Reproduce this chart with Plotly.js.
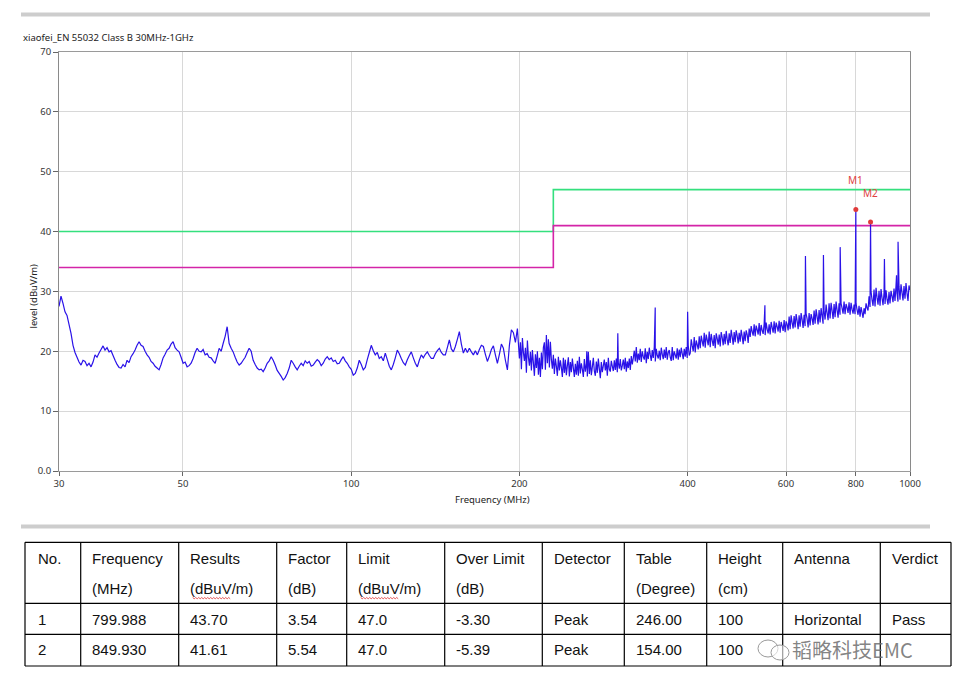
<!DOCTYPE html>
<html><head><meta charset="utf-8">
<script src="https://cdn.plot.ly/plotly-3.0.1.min.js"></script>
<style>html,body{margin:0;padding:0;background:#fff;} #chart{width:965px;height:692px;}</style>
</head><body><div id="chart"></div>
<script>
// ---------- DATA ----------
// Level (dBuV/m) 30 MHz - 200 MHz
const lowLevels = [
27.5,29.2,28.0,26.6,26.0,24.5,23.0,21.0,19.8,19.0,
18.2,17.7,18.5,18.3,17.6,18.0,17.4,18.2,19.4,19.0,
19.7,20.3,20.9,20.2,20.6,19.9,20.1,19.3,18.5,17.8,
17.3,17.2,17.8,17.4,18.5,18.1,19.1,19.6,20.2,21.0,
21.6,21.0,20.8,20.0,19.4,19.0,18.3,18.0,17.5,17.2,
16.9,17.8,18.9,19.5,20.2,20.5,21.2,21.6,20.6,20.2,
19.9,19.0,18.0,18.2,17.4,17.6,18.0,18.8,19.8,20.5,
20.0,19.9,20.3,19.4,19.6,19.0,18.9,18.4,18.0,19.2,
20.5,20.0,21.3,22.5,24.1,21.3,20.5,19.9,19.0,18.2,
17.7,18.0,18.5,19.0,19.8,20.5,20.0,18.5,17.8,17.2,
16.9,17.0,16.6,17.2,18.0,18.4,19.1,18.5,17.7,16.8,
16.3,15.8,15.2,15.6,16.3,17.2,18.5,18.0,17.4,16.9,
17.5,18.0,17.6,18.4,18.0,18.3,17.5,17.7,18.2,18.6,
18.3,17.6,18.0,18.7,19.1,18.6,18.9,18.3,18.5,17.9,
18.0,18.6,19.1,18.4,18.0,17.4,17.0,16.0,16.3,17.2,
18.5,17.8,16.9,17.3,18.6,19.8,21.0,20.1,19.4,19.8,
18.8,19.1,18.4,19.7,18.6,17.5,16.9,17.8,18.9,20.2,
19.6,18.8,18.1,17.7,18.6,19.3,19.9,18.9,18.0,17.4,
18.5,19.4,18.9,19.5,19.9,19.3,18.8,18.8,19.6,20.1,
20.5,19.8,19.4,19.4,20.6,21.9,20.4,19.9,20.8,22.0,
23.3,21.2,19.7,20.5,19.8,20.5,19.9,19.4,20.1,19.4,
20.3,21.0,20.8,19.5,18.3,19.2,20.3,20.9,19.4,18.0,
19.5,21.2,20.5,18.5,16.9,21.0,23.6,23.1,21.5,23.8,
18.8];
// Level (dBuV/m) 200 MHz - 1000 MHz (dense band)
const highLevels = [
21.5,17.0,22.2,19.8,18.4,20.6,16.4,21.8,19.0,17.6,
19.9,16.8,20.2,18.1,15.9,19.5,17.2,20.0,16.1,18.9,
15.7,19.8,17.0,20.6,21.5,16.9,22.7,18.0,22.0,17.3,
21.6,18.6,17.1,19.4,16.2,18.8,17.5,15.9,19.1,16.8,
18.5,17.3,15.7,18.9,16.4,18.6,16.0,17.6,19.0,15.8,
18.2,16.5,18.8,17.2,15.7,17.9,16.1,18.4,15.9,19.1,
16.3,18.0,17.0,15.7,18.7,16.6,17.8,15.8,19.9,16.2,
18.5,16.0,17.4,18.9,16.7,15.9,18.3,16.4,18.8,17.1,
15.5,18.2,16.5,17.6,18.6,16.8,18.2,15.9,18.9,17.0,
16.6,18.4,17.5,16.7,18.5,16.9,18.8,16.5,18.1,17.1,
18.7,16.8,17.6,18.6,17.0,18.9,16.6,18.3,17.2,18.8,
16.9,19.2,17.8,18.9,20.1,18.3,20.7,18.1,19.6,18.5,
20.4,18.2,20.0,19.1,18.6,20.5,18.0,19.9,18.7,20.6,
19.4,18.4,20.2,18.9,20.7,18.3,20.4,19.3,18.8,20.1,
18.5,20.6,19.5,18.7,20.3,18.9,20.7,18.6,19.8,20.2,
19.0,18.4,20.7,18.5,20.0,19.4,18.8,20.5,18.6,20.3,
19.0,20.6,19.6,18.7,20.4,19.1,20.7,18.9,21.0,19.3,
19.7,22.0,20.9,20.0,22.4,19.8,21.8,21.1,20.3,22.5,
20.5,22.6,21.7,20.8,23.1,20.6,22.8,21.9,21.0,23.3,
20.7,22.9,21.8,20.9,22.7,20.5,23.0,22.1,21.1,22.8,
20.8,23.2,22.3,21.0,22.9,21.2,23.4,22.0,21.0,23.0,
21.4,23.6,22.4,21.1,23.2,21.5,23.5,22.6,21.3,23.1,
21.6,23.6,22.5,21.2,23.3,21.7,23.5,22.8,21.4,23.8,
22.4,24.2,23.3,22.6,24.5,22.5,24.3,23.6,22.8,24.7,
22.6,24.4,23.5,22.9,24.6,22.7,24.8,23.7,23.0,24.5,
22.8,24.9,24.0,23.1,25.0,23.0,24.8,24.1,23.3,25.1,
23.1,24.9,24.2,23.4,25.2,23.2,25.0,24.5,23.5,25.8,
23.7,26.0,24.8,23.8,25.9,24.0,26.2,25.1,23.7,26.0,
24.1,26.4,25.3,23.9,26.1,24.2,26.3,25.4,24.0,26.4,
24.3,26.2,25.5,24.4,26.8,24.6,27.0,25.8,24.5,26.9,
24.8,27.2,25.9,24.6,26.7,25.3,27.8,26.4,25.2,28.0,
25.5,28.1,26.8,25.4,27.9,25.7,28.3,26.9,25.6,28.0,
26.1,28.0,27.2,26.3,28.3,26.2,27.9,27.3,26.4,28.2,
26.1,28.1,27.0,26.3,27.8,26.2,28.0,26.9,26.1,27.6,
25.8,27.4,26.5,25.6,27.2,26.2,28.0,27.3,26.8,29.2,
27.4,30.0,28.6,27.6,30.3,27.5,30.6,29.0,27.8,30.1,
27.6,30.4,28.9,27.7,29.8,27.9,30.2,28.7,27.8,29.9,
28.0,30.1,29.2,28.2,30.5,28.4,31.0,29.6,28.3,30.8,
28.6,31.2,29.8,28.5,30.9,28.8,31.4,29.7,28.4,31.0,30.2];
// Narrow-band emissions (MHz, dBuV/m)
const spikeFreqs  = [264, 300, 350, 400, 550, 650, 700, 750, 900, 946, 952];
const spikeLevels = [20.0, 23.0, 27.3, 26.6, 27.7, 35.9, 36.1, 37.4, 35.4, 32.7, 38.3];
// Marker points
const markerNames  = ['M1', 'M2'];
const markerFreqs  = [799.988, 849.930];
const markerLevels = [43.70, 41.61];
// Limit lines
const limitFreqs  = [30, 230, 230, 1000];
const limitClassB = [40, 40, 47, 47];
const limitLower  = [34, 34, 41, 41];
// Ticks
const xTickVals = [30, 50, 100, 200, 400, 600, 800, 1000];
const yTickVals = [0, 10, 20, 30, 40, 50, 60, 70];
const yTickText = ['0.0', '10', '20', '30', '40', '50', '60', '70'];
// Table
const tableHead1 = ['No.', 'Frequency', 'Results', 'Factor', 'Limit', 'Over Limit', 'Detector', 'Table', 'Height', 'Antenna', 'Verdict'];
const tableHead2 = ['', '(MHz)', '(dBuV/m)', '(dB)', '(dBuV/m)', '(dB)', '', '(Degree)', '(cm)', '', ''];
const tableRow1  = ['1', '799.988', '43.70', '3.54', '47.0', '-3.30', 'Peak', '246.00', '100', 'Horizontal', 'Pass'];
const tableRow2  = ['2', '849.930', '41.61', '5.54', '47.0', '-5.39', 'Peak', '154.00', '100', '', ''];

// ---------- BUILD ----------
const W = 965, H = 692;
const px = x => x / W, py = y => 1 - y / H;

const pts = [];
const nL = lowLevels.length;
for (let i = 0; i < nL; i++) pts.push([30 * Math.pow(200 / 30, i / (nL - 1)), lowLevels[i]]);
const nH = highLevels.length;
for (let i = 0; i < nH; i++) pts.push([200 * Math.pow(5, (i + 1) / nH), highLevels[i]]);
spikeFreqs.forEach((f, i) => pts.push([f, spikeLevels[i]]));
markerFreqs.forEach((f, i) => pts.push([f, markerLevels[i]]));
pts.sort((a, b) => a[0] - b[0]);

const traces = [
  {x: limitFreqs, y: limitClassB, mode: 'lines', line: {color: '#34e07e', width: 1.6}, hoverinfo: 'skip'},
  {x: limitFreqs, y: limitLower, mode: 'lines', line: {color: '#d424a8', width: 1.6}, hoverinfo: 'skip'},
  {x: pts.map(p => p[0]), y: pts.map(p => p[1]), mode: 'lines', line: {color: '#2a12e8', width: 1.2, simplify: false}, hoverinfo: 'skip'},
  {x: markerFreqs, y: markerLevels, mode: 'markers', marker: {color: '#e03a3a', size: 5}, hoverinfo: 'skip'}
];

const chartFont = 'Noto Sans, Open Sans, DejaVu Sans, sans-serif';
const tableFont = 'Liberation Sans, Arial, sans-serif';

const annotations = [
  {xref: 'paper', yref: 'paper', x: px(21), y: py(38), xanchor: 'left', yanchor: 'middle', showarrow: false,
   text: 'xiaofei_EN 55032 Class B 30MHz-1GHz', font: {family: chartFont, size: 9.5, color: '#222'}},
  {xref: 'paper', yref: 'paper', x: px(493), y: py(499), xanchor: 'center', yanchor: 'middle', showarrow: false,
   text: 'Frequency (MHz)', font: {family: chartFont, size: 9.5, color: '#222'}},
  {xref: 'paper', yref: 'paper', x: px(32.5), y: py(296), xanchor: 'center', yanchor: 'middle', showarrow: false, textangle: -90,
   text: 'level (dBuV/m)', font: {family: chartFont, size: 9.5, color: '#222'}}
];
markerNames.forEach((m, i) => annotations.push({
  xref: 'x', yref: 'y', x: Math.log10(markerFreqs[i]), y: markerLevels[i], yshift: 29, xanchor: 'center', yanchor: 'middle',
  showarrow: false, text: m, font: {family: chartFont, size: 10, color: '#e04040'}
}));

// table geometry
const colBounds = [25, 80.7, 178.7, 276.7, 346.7, 444.7, 542.3, 624.3, 706.7, 782.7, 880.3, 951];
const rowBounds = [542.3, 603.3, 634.3, 666];
const shapes = [
  {type: 'rect', xref: 'paper', yref: 'paper', x0: px(21), x1: px(930), y0: py(12.5), y1: py(16.5), fillcolor: '#cdcdcd', line: {width: 0}},
  {type: 'rect', xref: 'paper', yref: 'paper', x0: px(21), x1: px(930), y0: py(524.5), y1: py(528.5), fillcolor: '#cdcdcd', line: {width: 0}}
];
colBounds.forEach(x => shapes.push({type: 'line', xref: 'paper', yref: 'paper', x0: px(x), x1: px(x), y0: py(rowBounds[0]), y1: py(rowBounds[3]), line: {color: '#000', width: 1.2}}));
rowBounds.forEach(y => shapes.push({type: 'line', xref: 'paper', yref: 'paper', x0: px(colBounds[0]), x1: px(colBounds[11]), y0: py(y), y1: py(y), line: {color: '#000', width: 1.2}}));

const textRows = [[tableHead1, 558], [tableHead2, 588.5], [tableRow1, 619], [tableRow2, 649.5]];
textRows.forEach(([row, yc]) => row.forEach((t, c) => {
  if (!t) return;
  annotations.push({xref: 'paper', yref: 'paper', x: px(colBounds[c] + (c === 0 ? 11 : 9.5)), y: py(yc), xanchor: 'left', yanchor: 'middle',
    showarrow: false, text: t, font: {family: tableFont, size: 15, color: '#111'}});
}));
// spell-check squiggles under "dBuV"
[2, 4].forEach(c => {
  const x0 = colBounds[c] + 14, x1 = x0 + 38, y0 = 597.5;
  let d = 'M ' + px(x0) + ' ' + py(y0);
  let k = 0;
  for (let x = x0 + 1.5; x <= x1; x += 1.5) { k++; d += ' L ' + px(x) + ' ' + py(y0 + (k % 2 ? 1.3 : 0)); }
  shapes.push({type: 'path', xref: 'paper', yref: 'paper', path: d, line: {color: '#e03030', width: 0.8}});
});
// watermark
shapes.push({type: 'circle', xref: 'paper', yref: 'paper', x0: px(758), x1: px(778), y0: py(640), y1: py(657), line: {color: '#9a9a9a', width: 1}, fillcolor: 'rgba(255,255,255,0.6)'});
shapes.push({type: 'circle', xref: 'paper', yref: 'paper', x0: px(771), x1: px(789), y0: py(645), y1: py(660), line: {color: '#9a9a9a', width: 1}, fillcolor: 'rgba(255,255,255,0.6)'});
annotations.push({xref: 'paper', yref: 'paper', x: px(790), y: py(649), xanchor: 'left', yanchor: 'middle', showarrow: false,
  text: '韬略科技EMC', font: {family: 'Noto Sans CJK SC, sans-serif', size: 20, color: 'rgba(110,110,110,0.85)'}});

const layout = {
  width: W, height: H, margin: {l: 0, r: 0, t: 0, b: 0}, paper_bgcolor: '#fff', plot_bgcolor: '#fff', showlegend: false,
  xaxis: {type: 'log', domain: [px(59), px(910)], range: [Math.log10(30), 3], tickvals: xTickVals, ticktext: xTickVals.map(String),
    showgrid: true, gridcolor: '#d8d8d8', gridwidth: 1, showline: true, linecolor: '#9a9a9a', linewidth: 1, mirror: true,
    ticks: 'outside', ticklen: 4, tickcolor: '#666', tickfont: {family: chartFont, size: 9.5, color: '#333'}, zeroline: false, fixedrange: true},
  yaxis: {domain: [py(471), py(52)], range: [0, 70], tickvals: yTickVals, ticktext: yTickText,
    showgrid: true, gridcolor: '#d8d8d8', gridwidth: 1, showline: true, linecolor: '#8a8a8a', linewidth: 1, mirror: true,
    ticks: 'outside', ticklen: 5, tickcolor: '#666', tickfont: {family: chartFont, size: 9.5, color: '#333'}, zeroline: false, fixedrange: true},
  shapes: shapes, annotations: annotations
};
Plotly.newPlot('chart', traces, layout, {staticPlot: true, displayModeBar: false});
</script></body></html>
